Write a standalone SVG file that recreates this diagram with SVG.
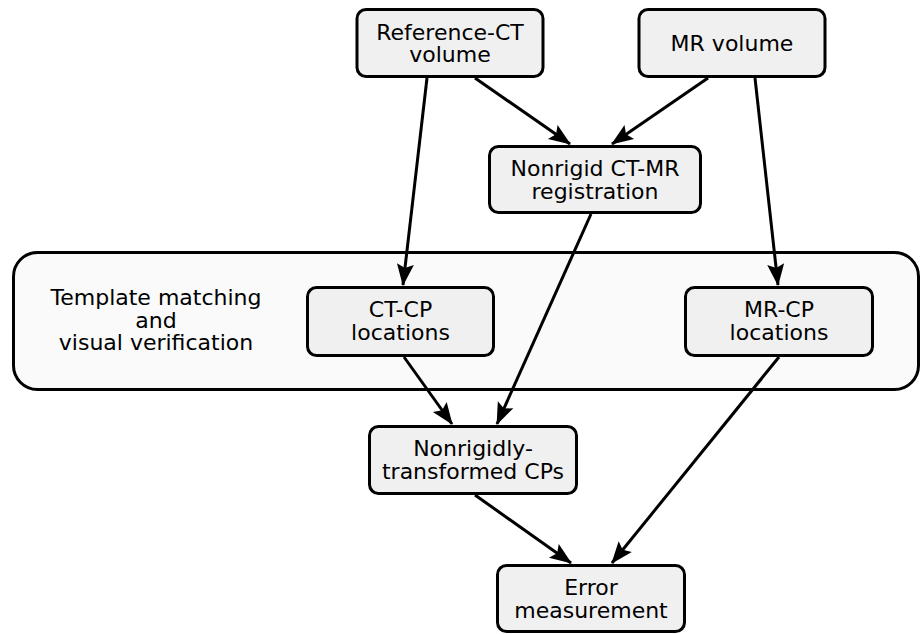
<svg xmlns="http://www.w3.org/2000/svg" width="921" height="634" viewBox="0 0 921 634">
<defs>
<marker id="ah" markerUnits="userSpaceOnUse" markerWidth="26" markerHeight="22" viewBox="-23 -11 26 22" refX="0" refY="0" orient="auto">
<path d="M1,0 L-21,-8.5 L-17,0 L-21,8.5 Z" fill="#000"/>
</marker>
<style>
.box{fill:#f0f0f0;stroke:#000;stroke-width:3}
.cont{fill:#fafafa;stroke:#000;stroke-width:3}
text{font-family:"DejaVu Sans","Liberation Sans",sans-serif;font-size:22px;fill:#000;text-anchor:middle}
.e{fill:none;stroke:#000;stroke-width:3;marker-end:url(#ah)}
</style>
</defs>
<rect width="921" height="634" fill="#fff"/>
<g id="container">
<rect class="cont" x="13.5" y="252.5" width="905" height="137" rx="24"/>
<text x="156" y="305">Template matching</text>
<text x="156" y="327.5">and</text>
<text x="156" y="350">visual verification</text>
</g>
<g id="refct">
<rect class="box" x="357" y="9.5" width="186" height="67" rx="9"/>
<text x="450" y="39.5">Reference-CT</text>
<text x="450" y="62">volume</text>
</g>
<g id="mr">
<rect class="box" x="639" y="9.5" width="186" height="67" rx="9"/>
<text x="732" y="51">MR volume</text>
</g>
<g id="reg">
<rect class="box" x="489.5" y="146.5" width="211" height="66" rx="9"/>
<text x="595" y="176">Nonrigid CT-MR</text>
<text x="595" y="198.5">registration</text>
</g>
<g id="ctcp">
<rect class="box" x="307.5" y="287.5" width="186" height="68" rx="9"/>
<text x="400.5" y="317">CT-CP</text>
<text x="400.5" y="339.5">locations</text>
</g>
<g id="mrcp">
<rect class="box" x="685.5" y="287.5" width="187" height="68" rx="9"/>
<text x="779" y="317">MR-CP</text>
<text x="779" y="339.5">locations</text>
</g>
<g id="ntcp">
<rect class="box" x="369.5" y="426.5" width="207" height="67" rx="9"/>
<text x="473" y="456">Nonrigidly-</text>
<text x="473" y="478.5">transformed CPs</text>
</g>
<g id="err">
<rect class="box" x="497.5" y="565.5" width="187" height="66" rx="9"/>
<text x="591" y="595">Error</text>
<text x="591" y="617.5">measurement</text>
</g>
<g id="connectors">
<path class="e" d="M427,78 L403,285"/>
<path class="e" d="M475,78 L570,144"/>
<path class="e" d="M708,78 L612,144"/>
<path class="e" d="M755,78 L778,285"/>
<path class="e" d="M591,214 L497,424"/>
<path class="e" d="M404,357 L452,424"/>
<path class="e" d="M779,357 L612,563"/>
<path class="e" d="M475,495 L571,563"/>
</g>
</svg>
